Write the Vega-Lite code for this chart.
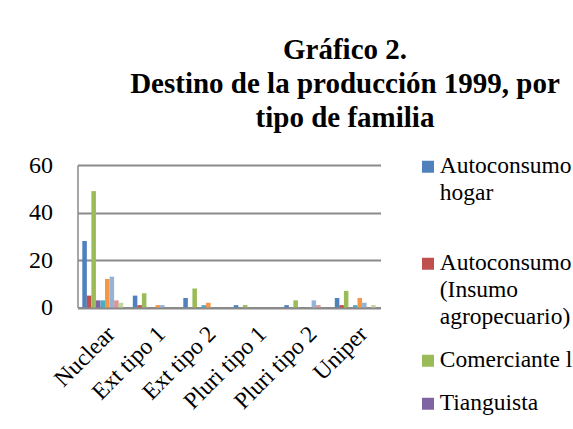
{
  "$schema": "https://vega.github.io/schema/vega-lite/v6.json",
  "width": 303,
  "height": 142.5,
  "autosize": {"type": "none"},
  "padding": {"left": 77.5, "top": 165, "right": 300, "bottom": 130},
  "background": "white",
  "title": {
    "text": ["Gráfico 2.", "Destino de la producción  1999, por", "tipo de familia"],
    "font": "'Liberation Serif', 'Times New Roman', 'DejaVu Serif', serif",
    "fontSize": 29,
    "fontWeight": "bold",
    "lineHeight": 34,
    "color": "black",
    "anchor": "middle",
    "frame": "group",
    "dx": 116,
    "dy": -5,
    "offset": 15
  },
  "data": {
    "values": [
      {"tipo": "Nuclear", "serie": "Autoconsumo hogar", "valor": 28},
      {"tipo": "Nuclear", "serie": "Autoconsumo (Insumo agropecuario)", "valor": 5},
      {"tipo": "Nuclear", "serie": "Comerciante local", "valor": 49},
      {"tipo": "Nuclear", "serie": "Tianguista", "valor": 3},
      {"tipo": "Nuclear", "serie": "Intermediario", "valor": 3},
      {"tipo": "Nuclear", "serie": "Venta en la comunidad", "valor": 12},
      {"tipo": "Nuclear", "serie": "Trueque", "valor": 13},
      {"tipo": "Nuclear", "serie": "Regalo", "valor": 3},
      {"tipo": "Nuclear", "serie": "Otro", "valor": 2},
      {"tipo": "Ext tipo 1", "serie": "Autoconsumo hogar", "valor": 5},
      {"tipo": "Ext tipo 1", "serie": "Autoconsumo (Insumo agropecuario)", "valor": 1},
      {"tipo": "Ext tipo 1", "serie": "Comerciante local", "valor": 6},
      {"tipo": "Ext tipo 1", "serie": "Tianguista", "valor": 0},
      {"tipo": "Ext tipo 1", "serie": "Intermediario", "valor": 0},
      {"tipo": "Ext tipo 1", "serie": "Venta en la comunidad", "valor": 1},
      {"tipo": "Ext tipo 1", "serie": "Trueque", "valor": 1},
      {"tipo": "Ext tipo 1", "serie": "Regalo", "valor": 0},
      {"tipo": "Ext tipo 1", "serie": "Otro", "valor": 0},
      {"tipo": "Ext tipo 2", "serie": "Autoconsumo hogar", "valor": 4},
      {"tipo": "Ext tipo 2", "serie": "Autoconsumo (Insumo agropecuario)", "valor": 0},
      {"tipo": "Ext tipo 2", "serie": "Comerciante local", "valor": 8},
      {"tipo": "Ext tipo 2", "serie": "Tianguista", "valor": 0},
      {"tipo": "Ext tipo 2", "serie": "Intermediario", "valor": 1},
      {"tipo": "Ext tipo 2", "serie": "Venta en la comunidad", "valor": 2},
      {"tipo": "Ext tipo 2", "serie": "Trueque", "valor": 0},
      {"tipo": "Ext tipo 2", "serie": "Regalo", "valor": 0},
      {"tipo": "Ext tipo 2", "serie": "Otro", "valor": 0},
      {"tipo": "Pluri tipo 1", "serie": "Autoconsumo hogar", "valor": 1},
      {"tipo": "Pluri tipo 1", "serie": "Autoconsumo (Insumo agropecuario)", "valor": 0},
      {"tipo": "Pluri tipo 1", "serie": "Comerciante local", "valor": 1},
      {"tipo": "Pluri tipo 1", "serie": "Tianguista", "valor": 0},
      {"tipo": "Pluri tipo 1", "serie": "Intermediario", "valor": 0},
      {"tipo": "Pluri tipo 1", "serie": "Venta en la comunidad", "valor": 0},
      {"tipo": "Pluri tipo 1", "serie": "Trueque", "valor": 0},
      {"tipo": "Pluri tipo 1", "serie": "Regalo", "valor": 0},
      {"tipo": "Pluri tipo 1", "serie": "Otro", "valor": 0},
      {"tipo": "Pluri tipo 2", "serie": "Autoconsumo hogar", "valor": 1},
      {"tipo": "Pluri tipo 2", "serie": "Autoconsumo (Insumo agropecuario)", "valor": 0},
      {"tipo": "Pluri tipo 2", "serie": "Comerciante local", "valor": 3},
      {"tipo": "Pluri tipo 2", "serie": "Tianguista", "valor": 0},
      {"tipo": "Pluri tipo 2", "serie": "Intermediario", "valor": 0},
      {"tipo": "Pluri tipo 2", "serie": "Venta en la comunidad", "valor": 0},
      {"tipo": "Pluri tipo 2", "serie": "Trueque", "valor": 3},
      {"tipo": "Pluri tipo 2", "serie": "Regalo", "valor": 1},
      {"tipo": "Pluri tipo 2", "serie": "Otro", "valor": 0},
      {"tipo": "Uniper", "serie": "Autoconsumo hogar", "valor": 4},
      {"tipo": "Uniper", "serie": "Autoconsumo (Insumo agropecuario)", "valor": 1},
      {"tipo": "Uniper", "serie": "Comerciante local", "valor": 7},
      {"tipo": "Uniper", "serie": "Tianguista", "valor": 0},
      {"tipo": "Uniper", "serie": "Intermediario", "valor": 1},
      {"tipo": "Uniper", "serie": "Venta en la comunidad", "valor": 4},
      {"tipo": "Uniper", "serie": "Trueque", "valor": 2},
      {"tipo": "Uniper", "serie": "Regalo", "valor": 0},
      {"tipo": "Uniper", "serie": "Otro", "valor": 1}
    ]
  },
  "mark": {"type": "bar"},
  "encoding": {
    "x": {
      "field": "tipo",
      "type": "nominal",
      "sort": ["Nuclear", "Ext tipo 1", "Ext tipo 2", "Pluri tipo 1", "Pluri tipo 2", "Uniper"],
      "scale": {"paddingInner": 0.19, "paddingOuter": 0.095},
      "axis": {
        "title": null,
        "labelAngle": -45,
        "labelAlign": "right",
        "labelBaseline": "top",
        "labelFont": "'Liberation Serif', 'Times New Roman', 'DejaVu Serif', serif",
        "labelFontSize": 23.5,
        "labelColor": "black",
        "labelPadding": 14,
        "ticks": false,
        "domainColor": "#8a8a8a",
        "domainWidth": 2,
        "labelOverlap": false
      }
    },
    "xOffset": {
      "field": "serie",
      "type": "nominal",
      "sort": ["Autoconsumo hogar", "Autoconsumo (Insumo agropecuario)", "Comerciante local", "Tianguista", "Intermediario", "Venta en la comunidad", "Trueque", "Regalo", "Otro"],
      "scale": {"paddingInner": 0, "paddingOuter": 0}
    },
    "y": {
      "field": "valor",
      "type": "quantitative",
      "scale": {"domain": [0, 60], "nice": false},
      "axis": {
        "title": null,
        "values": [0, 20, 40, 60],
        "labelFont": "'Liberation Serif', 'Times New Roman', 'DejaVu Serif', serif",
        "labelFontSize": 24,
        "labelColor": "black",
        "labelPadding": 25,
        "ticks": false,
        "domainColor": "#8a8a8a",
        "domainWidth": 1.5,
        "gridColor": "#8a8a8a",
        "gridWidth": 2
      }
    },
    "color": {
      "field": "serie",
      "type": "nominal",
      "scale": {
        "domain": ["Autoconsumo hogar", "Autoconsumo (Insumo agropecuario)", "Comerciante local", "Tianguista", "Intermediario", "Venta en la comunidad", "Trueque", "Regalo", "Otro"],
        "range": ["#4F81BD", "#C0504D", "#9BBB59", "#8064A2", "#4BACC6", "#F79646", "#95B3D7", "#D99694", "#C3D69B"]
      },
      "legend": {
        "title": null,
        "orient": "none",
        "legendX": 338.75,
        "legendY": -4,
        "padding": 0,
        "symbolType": "M-1,-2H1V0H-1Z",
        "symbolSize": 144,
        "symbolStrokeWidth": 0,
        "labelFont": "'Liberation Serif', 'Times New Roman', 'DejaVu Serif', serif",
        "labelFontSize": 23.5,
        "labelColor": "black",
        "labelBaseline": "alphabetic",
        "labelOffset": 0,
        "labelLimit": 1000,
        "rowPadding": 18,
        "labelExpr": "datum.label == 'Autoconsumo hogar' ? ['Autoconsumo', 'hogar', ''] : datum.label == 'Autoconsumo (Insumo agropecuario)' ? ['Autoconsumo', '(Insumo', 'agropecuario)'] : datum.label",
        "encode": {"labels": {"update": {"lineHeight": {"value": 27}}}}
      }
    }
  },
  "config": {
    "view": {"stroke": null},
    "style": {"guide-label": {"lineHeight": 27}}
  }
}
